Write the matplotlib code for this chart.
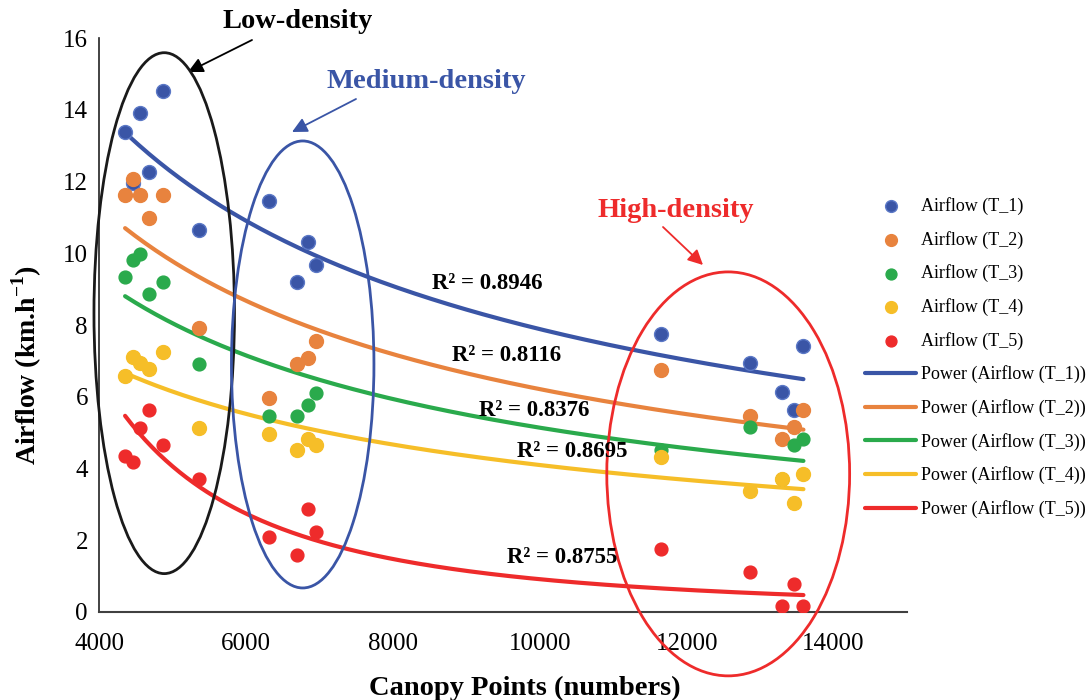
import numpy as np
import matplotlib
matplotlib.use("Agg")
import matplotlib.pyplot as plt
from matplotlib.patches import Ellipse

plt.rcParams['font.family'] = ['Liberation Serif', 'DejaVu Serif']
plt.rcParams['mathtext.fontset'] = 'custom'
plt.rcParams['mathtext.rm'] = 'Liberation Serif'
plt.rcParams['mathtext.bf'] = 'Liberation Serif:bold'

# ---- data ----
canopy_points = [4355, 4464, 4560, 4683, 4874, 5366, 6309, 6691, 6842, 6951,
                 11650, 12866, 13303, 13467, 13590]
airflow_t1 = [13.38, 11.96, 13.91, 12.26, 14.52, 10.65, 11.46, 9.20, 10.31, 9.67,
              7.75, 6.94, 6.13, 5.63, 7.41]
airflow_t2 = [11.62, 12.07, 11.62, 10.98, 11.62, 7.92, 5.96, 6.91, 7.08, 7.55,
              6.75, 5.46, 4.82, 5.16, 5.63]
airflow_t3 = [9.34, 9.81, 9.98, 8.86, 9.20, 6.91, 5.46, 5.46, 5.77, 6.10,
              4.52, 5.16, 3.72, 4.65, 4.82]
airflow_t4 = [6.58, 7.11, 6.94, 6.77, 7.25, 5.13, 4.96, 4.52, 4.82, 4.65,
              4.32, 3.37, 3.71, 3.04, 3.85]
airflow_t5 = [4.35, 4.18, 5.13, 5.63, 4.65, 3.71, 2.09, 1.59, 2.87, 2.23,
              1.76, 1.12, 0.17, 0.78, 0.17]
series_labels = ["T_1", "T_2", "T_3", "T_4", "T_5"]
r2_labels = ["R² = 0.8946", "R² = 0.8116", "R² = 0.8376", "R² = 0.8695", "R² = 0.8755"]
x_ticks = [4000, 6000, 8000, 10000, 12000, 14000]
y_ticks = [0, 2, 4, 6, 8, 10, 12, 14, 16]

series = [airflow_t1, airflow_t2, airflow_t3, airflow_t4, airflow_t5]
colors = ["#3A55A6", "#E8833E", "#2AAA4C", "#F6BE28", "#EE2B2B"]
edge_colors = ["#5B78C6", "#E8833E", "#2AAA4C", "#F6BE28", "#EE2B2B"]
msizes = [100, 100, 85, 100, 85]
r2_pos = [(9287, 9.17), (9546, 7.16), (9929, 5.63), (10448, 4.46), (10311, 1.51)]

fig = plt.figure(figsize=(10.89, 7.0), dpi=100)
ax = fig.add_axes([99/1089, 1-612/700, (907-99)/1089, (612-38)/700])

x = np.array(canopy_points, dtype=float)
handles_pts = []
handles_lines = []
for ys, c, ec, s, lab in zip(series, colors, edge_colors, msizes, series_labels):
    h = ax.scatter(x, ys, s=s, color=c, edgecolors=ec, linewidths=1.0, zorder=4,
                   label=f"Airflow ({lab})")
    handles_pts.append(h)

for ys, c, lab in zip(series, colors, series_labels):
    y = np.array(ys)
    b, lna = np.polyfit(np.log(x), np.log(y), 1)
    xf = np.linspace(x.min(), x.max(), 200)
    yf = np.exp(lna) * xf ** b
    ln, = ax.plot(xf, yf, color=c, lw=3.0, zorder=3,
                  label=f"Power (Airflow ({lab}))", solid_capstyle='round')
    handles_lines.append(ln)

for txt, (px, py) in zip(r2_labels, r2_pos):
    ax.text(px, py, txt, fontsize=16.5, fontweight='bold', ha='center', va='center',
            zorder=6)

ax.set_xlim(4000, 15000)
ax.set_ylim(0, 16)
ax.set_xticks(x_ticks)
ax.set_yticks(y_ticks)
ax.tick_params(length=0, labelsize=18)
ax.tick_params(axis='x', pad=15)
ax.tick_params(axis='y', pad=8)
for sp in ['top', 'right']:
    ax.spines[sp].set_visible(False)
ax.spines['left'].set_color('#222222')
ax.spines['bottom'].set_color('#404040')
ax.spines['left'].set_linewidth(1.2)
ax.spines['bottom'].set_linewidth(1.5)

ax.set_xlabel("Canopy Points (numbers)", fontsize=20.5, fontweight='bold')
ax.set_ylabel("Airflow (km.h$^{\\mathbf{-1}}$)", fontsize=20, fontweight='bold')
ax.xaxis.set_label_coords((525 - 99) / 808, -(688 - 612) / 574)
ax.yaxis.set_label_coords(-(99 - 27) / 808, 0.43)
ax.xaxis.label.set_va('center')
ax.yaxis.label.set_va('center')

# density ellipses
ells = [((4888, 8.33), 1913, 14.52, '#1a1a1a'),
        ((6773, 6.90), 1940, 12.46, '#3A55A6'),
        ((12566, 3.85), 3306, 11.26, '#EE2B2B')]
for (cx, cy), w, hgt, ec in ells:
    e = Ellipse((cx, cy), w, hgt, fill=False, edgecolor=ec, lw=2.0,
                clip_on=False, zorder=5)
    ax.add_patch(e)

# annotations (figure pixel coordinates)
def fpx(px, py):
    return (px / 1089, 1 - py / 700)

fig.text(*fpx(298, 22), "Low-density", fontsize=20.5, fontweight='bold',
         color='black', ha='center', va='center')
fig.text(*fpx(426, 82), "Medium-density", fontsize=20.5, fontweight='bold',
         color='#3A55A6', ha='center', va='center')
fig.text(*fpx(676, 211), "High-density", fontsize=20.5, fontweight='bold',
         color='#EE2B2B', ha='center', va='center')

arrows = [((252, 40), (188, 72), 'black'),
          ((356, 99), (292, 132), '#3A55A6'),
          ((663, 227), (703, 265), '#EE2B2B')]
for (x0, y0), (x1, y1), c in arrows:
    ax.annotate("", xy=fpx(x1, y1), xycoords='figure fraction',
                xytext=fpx(x0, y0), textcoords='figure fraction',
                arrowprops=dict(arrowstyle='-|>,head_length=0.9,head_width=0.45',
                                color=c, lw=1.3, shrinkA=0, shrinkB=0),
                annotation_clip=False)

leg = fig.legend(handles_pts + handles_lines,
                 [h.get_label() for h in handles_pts + handles_lines],
                 loc='upper left', bbox_to_anchor=(858/1089, 1 - 190/700),
                 frameon=False, fontsize=13, labelspacing=0.87,
                 handlelength=2.8, handletextpad=0.3, borderaxespad=0,
                 markerscale=0.85)

fig.savefig("out.png", dpi=100)
